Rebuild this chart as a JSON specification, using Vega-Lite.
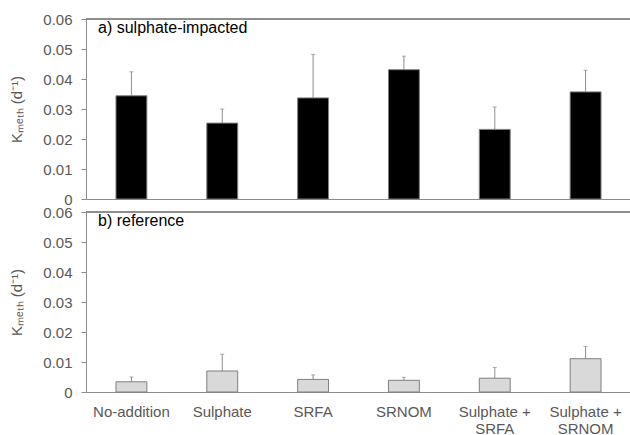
{
  "$schema": "https://vega.github.io/schema/vega-lite/v6.json",
  "background": "white",
  "autosize": {"type": "pad"},
  "padding": {"left": 9, "top": 12, "right": 0, "bottom": 0},
  "bounds": "flush",
  "spacing": 13,
  "datasets": {
    "impacted": [
      {"treatment": "No-addition", "k": 0.0344, "upper": 0.0424},
      {"treatment": "Sulphate", "k": 0.0253, "upper": 0.0300},
      {"treatment": "SRFA", "k": 0.0337, "upper": 0.0482},
      {"treatment": "SRNOM", "k": 0.0431, "upper": 0.0476},
      {"treatment": "Sulphate + SRFA", "k": 0.0232, "upper": 0.0307},
      {"treatment": "Sulphate + SRNOM", "k": 0.0357, "upper": 0.0429}
    ],
    "reference": [
      {"treatment": "No-addition", "k": 0.0034, "upper": 0.0050},
      {"treatment": "Sulphate", "k": 0.0070, "upper": 0.0126},
      {"treatment": "SRFA", "k": 0.0042, "upper": 0.0057},
      {"treatment": "SRNOM", "k": 0.0039, "upper": 0.0049},
      {"treatment": "Sulphate + SRFA", "k": 0.0046, "upper": 0.0082},
      {"treatment": "Sulphate + SRNOM", "k": 0.0111, "upper": 0.0152}
    ]
  },
  "config": {
    "font": "Liberation Sans",
    "view": {"stroke": null},
    "axis": {
      "domainColor": "#8c8c8c",
      "tickColor": "#8c8c8c",
      "labelColor": "#595959",
      "titleColor": "#595959",
      "labelFont": "Liberation Sans",
      "titleFont": "Liberation Sans",
      "labelFontSize": 15,
      "titleFontSize": 15,
      "titleFontWeight": "normal",
      "labelOverlap": false,
      "grid": false
    },
    "axisY": {
      "labelExpr": "datum.value == 0 ? '0' : format(datum.value, '.2f')",
      "tickSize": 5,
      "labelPadding": 9,
      "titleX": -70,
      "titleY": 90,
      "titleAlign": "center",
      "titleBaseline": "middle",
      "titleAngle": -90
    }
  },
  "vconcat": [
    {
      "width": 545,
      "height": 180,
      "data": {"name": "impacted"},
      "title": {
        "text": "a) sulphate-impacted",
        "anchor": "start",
        "frame": "group",
        "orient": "top",
        "offset": -32,
        "baseline": "middle",
        "dx": 12,
        "fontSize": 16,
        "fontWeight": "normal",
        "color": "#000000",
        "font": "Liberation Sans"
      },
      "layer": [
        {
          "mark": {"type": "rule", "color": "#8c8c8c", "strokeWidth": 1},
          "encoding": {
            "x": {"field": "treatment", "type": "nominal", "sort": null, "scale": {"paddingInner": 0.66, "paddingOuter": 0.33}, "axis": {"title": null, "labels": false, "ticks": false}},
            "y": {
              "field": "k",
              "type": "quantitative",
              "scale": {"domain": [0, 0.06], "nice": false},
              "axis": {"title": "Kₘₑₜₕ (d⁻¹)", "values": [0, 0.01, 0.02, 0.03, 0.04, 0.05, 0.06], "tickCount": 7}
            },
            "y2": {"field": "upper"}
          }
        },
        {
          "mark": {"type": "tick", "color": "#8c8c8c", "size": 4, "thickness": 1},
          "encoding": {
            "x": {"field": "treatment", "type": "nominal", "sort": null},
            "y": {"field": "upper", "type": "quantitative"}
          }
        },
        {
          "mark": {"type": "bar", "fill": "#000000", "stroke": "#7f7f7f", "strokeWidth": 1},
          "encoding": {
            "x": {"field": "treatment", "type": "nominal", "sort": null},
            "y": {"field": "k", "type": "quantitative"}
          }
        },
        {
          "mark": {"type": "rule", "color": "#8c8c8c", "strokeWidth": 1},
          "encoding": {"y": {"datum": 0.06, "type": "quantitative"}}
        }
      ]
    },
    {
      "width": 545,
      "height": 180,
      "data": {"name": "reference"},
      "title": {
        "text": "b) reference",
        "anchor": "start",
        "frame": "group",
        "orient": "top",
        "offset": -32,
        "baseline": "middle",
        "dx": 12,
        "fontSize": 16,
        "fontWeight": "normal",
        "color": "#000000",
        "font": "Liberation Sans"
      },
      "layer": [
        {
          "mark": {"type": "rule", "color": "#8c8c8c", "strokeWidth": 1},
          "encoding": {
            "x": {
              "field": "treatment",
              "type": "nominal",
              "sort": null,
              "scale": {"paddingInner": 0.66, "paddingOuter": 0.33},
              "axis": {
                "title": null,
                "ticks": false,
                "labelAngle": 0,
                "labelPadding": 12,
                "labelLineHeight": 17,
                "labelBaseline": "top",
                "labelExpr": "datum.label == 'Sulphate + SRFA' ? ['Sulphate +', 'SRFA'] : datum.label == 'Sulphate + SRNOM' ? ['Sulphate +', 'SRNOM'] : datum.label"
              }
            },
            "y": {
              "field": "k",
              "type": "quantitative",
              "scale": {"domain": [0, 0.06], "nice": false},
              "axis": {"title": "Kₘₑₜₕ (d⁻¹)", "values": [0, 0.01, 0.02, 0.03, 0.04, 0.05, 0.06], "tickCount": 7}
            },
            "y2": {"field": "upper"}
          }
        },
        {
          "mark": {"type": "tick", "color": "#8c8c8c", "size": 4, "thickness": 1},
          "encoding": {
            "x": {"field": "treatment", "type": "nominal", "sort": null},
            "y": {"field": "upper", "type": "quantitative"}
          }
        },
        {
          "mark": {"type": "bar", "fill": "#d9d9d9", "stroke": "#7f7f7f", "strokeWidth": 1},
          "encoding": {
            "x": {"field": "treatment", "type": "nominal", "sort": null},
            "y": {"field": "k", "type": "quantitative"}
          }
        },
        {
          "mark": {"type": "rule", "color": "#8c8c8c", "strokeWidth": 1},
          "encoding": {"y": {"datum": 0.06, "type": "quantitative"}}
        }
      ]
    }
  ]
}
